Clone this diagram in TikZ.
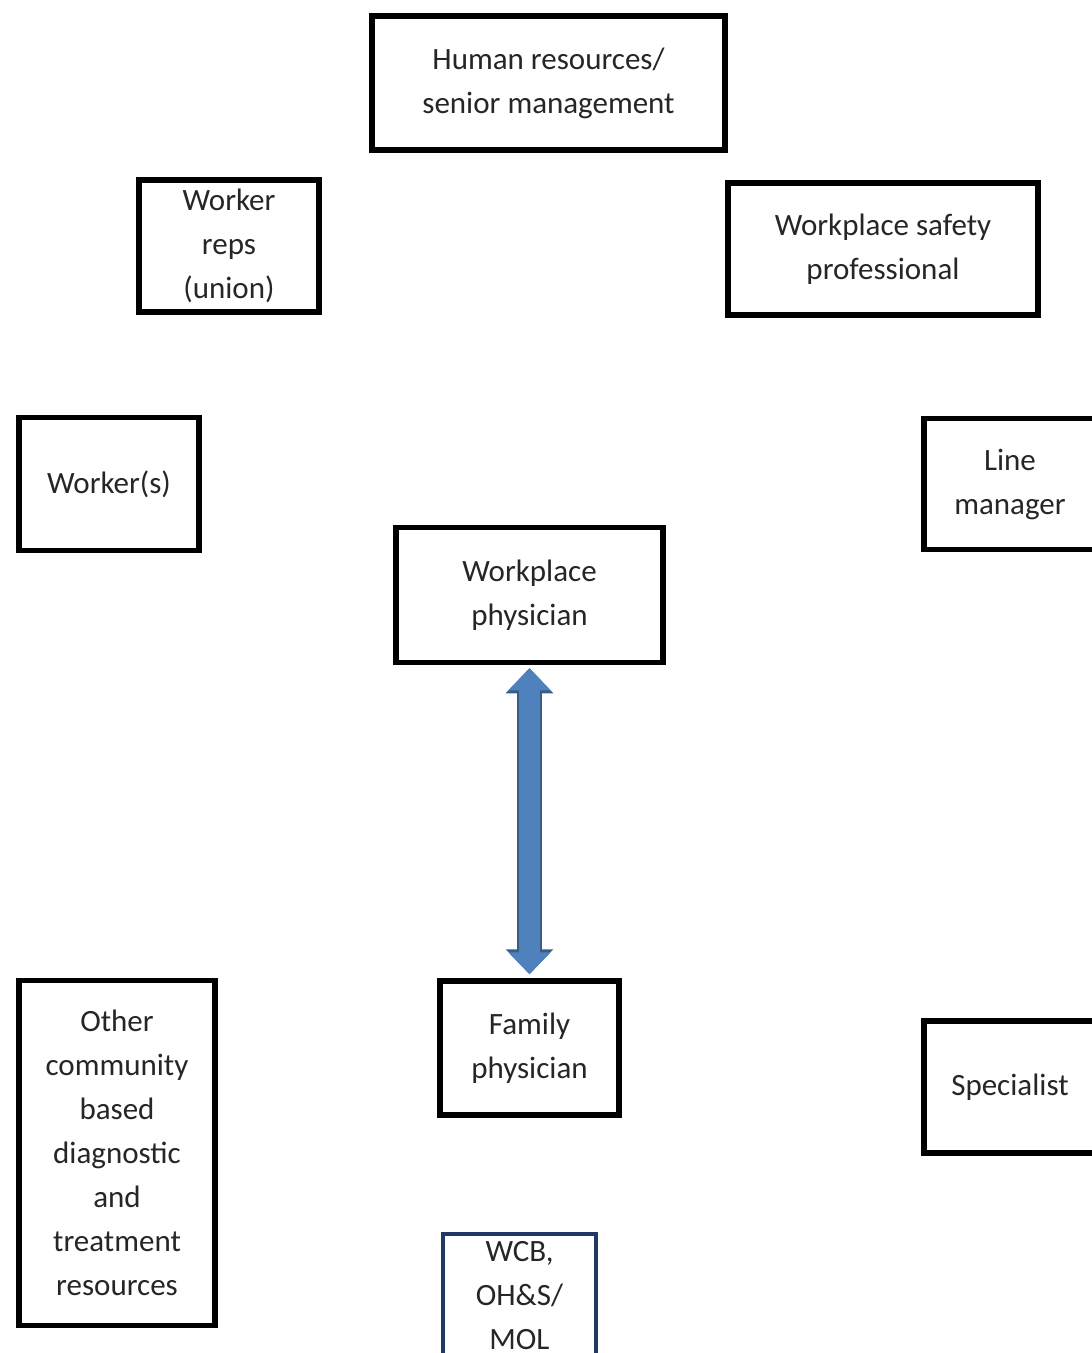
\documentclass[tikz,border=0pt]{standalone}
\usepackage{fontspec}
\setmainfont{Carlito}
\usepackage{tikz}
\usetikzlibrary{arrows.meta,calc}

\definecolor{arrowblue}{HTML}{4F81BD}
\definecolor{arrowedge}{HTML}{385D8A}
\definecolor{navybox}{HTML}{1F3864}
\definecolor{textgray}{HTML}{262626}

\newcommand{\rolefont}{\fontsize{31}{44}\selectfont}

\begin{document}
\begin{tikzpicture}[x=1pt,y=-1pt,
	role/.style={draw=black, line width=5.5pt, align=center, inner sep=0pt, font=\rolefont, text=textgray},
	agency/.style={role, draw=navybox, line width=4pt},
	twoway/.style={arrowblue, line width=21pt,
		{Triangle[width=41pt,length=22pt]}-{Triangle[width=41pt,length=22pt]},
		preaction={draw, arrowedge, line width=25pt,
			{Triangle[width=46pt,length=25pt]}-{Triangle[width=46pt,length=25pt]}}}]
	\useasboundingbox (0,0) rectangle (1092,1353);
	\clip (0,0) rectangle (1092,1353);
	\fill[white] (0,0) rectangle (1092,1353);
	
	\node[role, minimum width=353pt, minimum height=134pt] (hr) at (548.5,83) {Human resources/\\senior management};
	\node[role, minimum width=180pt, minimum height=132pt] (reps) at (229,246) {Worker\\reps\\(union)};
	\node[role, minimum width=310pt, minimum height=132pt] (safety) at (883,249) {Workplace safety\\professional};
	
	\node[role, minimum width=180pt, minimum height=133pt] (workers) at (109,484) {Worker(s)};
	\node[role, minimum width=172pt, minimum height=131pt] (line) at (1010,484) {Line\\manager};
	
	\node[role, minimum width=267pt, minimum height=135pt] (wphys) at (529.5,595) {Workplace\\physician};
	
	\node[role, minimum width=196pt, minimum height=345pt] (other) at (117,1153) {Other\\community\\based\\diagnostic\\and\\treatment\\resources};
	\node[role, minimum width=179pt, minimum height=134pt] (fphys) at (529.5,1048) {Family\\physician};
	\node[role, minimum width=172pt, minimum height=132pt] (spec) at (1010,1087) {Specialist};
	
	\node[agency, minimum width=153pt, minimum height=125pt] (wcb) at (519.5,1296) {WCB,\\OH\&S/\\MOL};
	
	\draw[twoway] ($(wphys.south)+(0,3)$) -- ($(fphys.north)+(0,-4)$);
\end{tikzpicture}
\end{document}
